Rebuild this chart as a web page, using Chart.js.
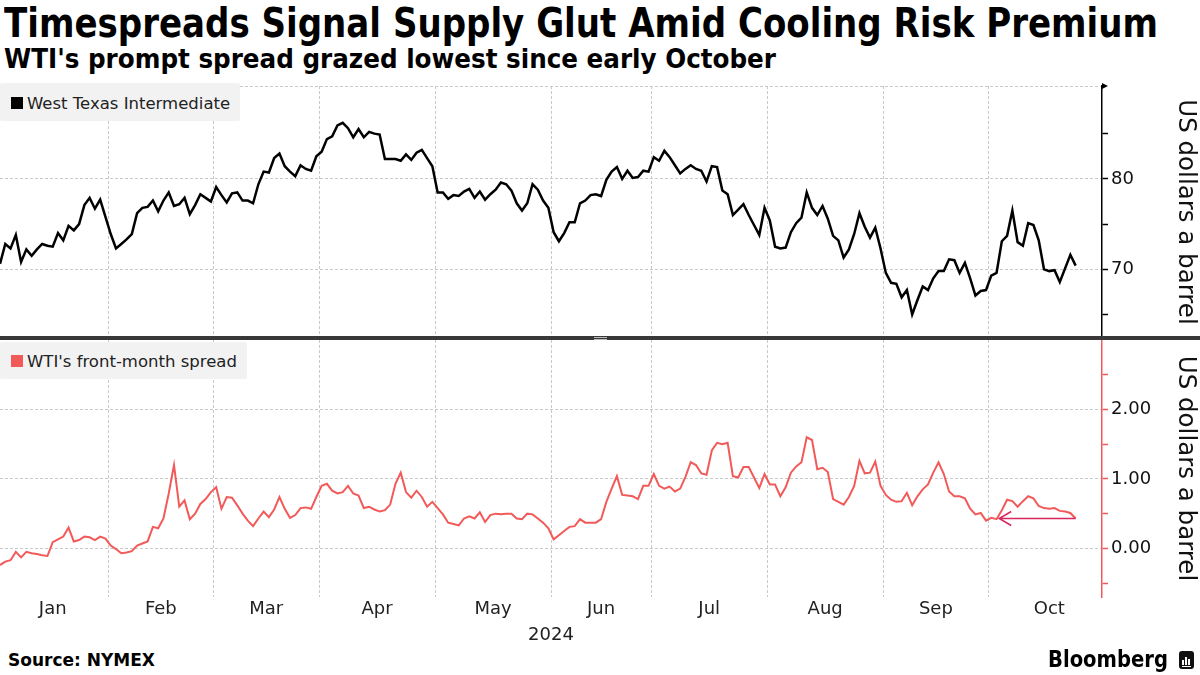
<!DOCTYPE html>
<html>
<head>
<meta charset="utf-8">
<script src="https://cdn.jsdelivr.net/npm/chart.js@4.4.1/dist/chart.umd.min.js"></script>
<style>
  body { margin: 0; width: 1200px; height: 675px; overflow: hidden; position: relative; background: #fff; font-family: "DejaVu Sans", sans-serif; color: #000; }
  .txt { position: absolute; white-space: nowrap; line-height: 1; transform-origin: 0 0; }
  #title { left: 4px; top: 3px; font-size: 40px; font-weight: bold; }
  #subtitle { left: 4px; top: 46px; font-size: 26px; font-weight: bold; }
  #source { left: 8px; top: 652px; font-size: 17px; font-weight: bold; }
  #brand { left: 1048px; top: 648px; font-size: 23px; font-weight: bold; }
  canvas { position: absolute; left: 0; }
  #topWrap { position: absolute; left: 0; top: 80px; width: 1200px; height: 258px; }
  #botWrap { position: absolute; left: 0; top: 338px; width: 1200px; height: 312px; }
  .legend { position: absolute; left: 0; background: #f2f2f2; border-radius: 2px; z-index: 5; }
  .legend .sq { position: absolute; left: 11px; width: 12px; height: 12px; }
  .legend .lbl { position: absolute; left: 27px; font-size: 16.5px; line-height: 1; white-space: nowrap; color: #222; }
  #sep { position: absolute; left: 0; top: 336px; width: 1200px; height: 4px; background: #383838; z-index: 6; }
  #grip1, #grip2 { position: absolute; left: 594px; width: 13px; height: 1px; background: #bbb; z-index: 7; }
  #logo { position: absolute; left: 1179px; top: 651px; width: 15px; height: 18px; background: #111; border-radius: 3px; }
  #logo i { position: absolute; bottom: 4px; width: 2px; background: #fff; }
</style>
</head>
<body>
<div id="title" class="txt">Timespreads Signal Supply Glut Amid Cooling Risk Premium</div>
<div id="subtitle" class="txt">WTI's prompt spread grazed lowest since early October</div>

<div id="topWrap"><canvas id="topChart" width="1200" height="258"></canvas></div>
<div id="botWrap"><canvas id="botChart" width="1200" height="312"></canvas></div>

<div class="legend" style="top:83px;width:240px;height:38px;">
  <div class="sq" style="top:14px;background:#000;"></div>
  <div class="lbl" style="top:13px;">West Texas Intermediate</div>
</div>
<div class="legend" style="top:342px;width:247px;height:37px;">
  <div class="sq" style="top:13px;background:#f25a5a;"></div>
  <div class="lbl" style="top:12px;">WTI's front-month spread</div>
</div>

<div id="sep"></div>
<div id="grip1" style="top:337px;"></div>
<div id="grip2" style="top:339px;"></div>

<div id="source" class="txt">Source: NYMEX</div>
<div id="brand" class="txt">Bloomberg</div>
<div id="logo"><i style="left:3px;height:5px"></i><i style="left:6px;height:8px"></i><i style="left:9px;height:6px"></i><i style="left:3px;bottom:2px;width:9px;height:1px"></i></div>

<script>
// trading days Jan 2 .. Oct 23 2024, one value per day
const wti = [
  70.6, 72.8, 72.3, 73.8, 70.8, 72.2, 71.5, 72.2, 72.8, 72.6,
  72.5, 74.0, 73.2, 74.8, 74.3, 75.0, 77.1, 77.9, 76.7, 77.7,
  75.8, 73.9, 72.3, 72.8, 73.3, 73.9, 76.2, 76.8, 76.9, 77.6,
  76.4, 77.6, 78.5, 77.0, 77.2, 77.9, 76.1, 77.1, 78.3, 77.9,
  77.5, 79.1, 78.2, 77.4, 78.4, 78.5, 77.6, 77.6, 77.3, 79.4,
  80.8, 80.7, 82.3, 82.8, 81.4, 80.8, 80.3, 81.5, 81.1, 80.9,
  82.5, 83.0, 84.4, 84.7, 85.9, 86.2, 85.6, 84.6, 85.5, 84.6,
  85.2, 85.0, 84.9, 82.2, 82.2, 82.2, 82.0, 82.7, 82.1, 82.9,
  83.2, 82.3, 81.4, 78.5, 78.5, 77.8, 78.2, 78.1, 78.6, 78.9,
  77.9, 78.6, 77.7, 78.3, 78.8, 79.6, 79.4, 78.7, 77.3, 76.5,
  77.3, 79.4, 78.8, 77.6, 76.8, 74.1, 73.1, 74.0, 75.2, 75.2,
  77.3, 77.6, 78.2, 78.3, 78.1, 79.9, 80.8, 81.3, 80.0, 80.9,
  80.1, 80.2, 80.9, 80.8, 82.4, 82.0, 83.1, 82.4, 81.5, 80.6,
  81.1, 81.5, 81.1, 80.9, 79.7, 81.4, 81.3, 78.7, 78.3, 76.0,
  76.6, 77.2, 76.0, 74.9, 73.8, 76.8, 75.4, 72.5, 72.3, 72.4,
  74.1, 75.1, 75.7, 78.5, 76.8, 76.0, 77.0, 75.6, 73.7, 73.2,
  71.3, 72.2, 73.9, 76.2, 74.7, 73.5, 74.6, 72.3, 69.6, 68.5,
  68.4, 66.9, 67.7, 65.0, 66.6, 68.1, 67.7, 69.0, 69.8, 69.8,
  71.1, 71.0, 69.6, 70.7, 69.0, 67.1, 67.6, 67.7, 69.3, 69.6,
  73.1, 73.7, 76.5, 73.0, 72.6, 75.1, 74.9, 73.2, 70.0, 69.8,
  69.9, 68.6, 70.1, 71.6, 70.4
];

const spread = [
  -0.24, -0.19, -0.17, -0.05, -0.13, -0.05, -0.07, -0.08, -0.10, -0.11,
  0.09, 0.13, 0.17, 0.30, 0.10, 0.12, 0.17, 0.16, 0.12, 0.17,
  0.14, 0.04, -0.01, -0.07, -0.06, -0.04, 0.04, 0.07, 0.10, 0.31,
  0.29, 0.43, 0.79, 1.20, 0.60, 0.69, 0.42, 0.50, 0.64, 0.71,
  0.81, 0.88, 0.57, 0.74, 0.73, 0.62, 0.50, 0.40, 0.32, 0.43,
  0.53, 0.45, 0.56, 0.74, 0.57, 0.44, 0.48, 0.58, 0.59, 0.57,
  0.74, 0.90, 0.93, 0.83, 0.79, 0.81, 0.90, 0.79, 0.76, 0.58,
  0.60, 0.56, 0.53, 0.55, 0.63, 0.93, 1.09, 0.81, 0.73, 0.83,
  0.74, 0.60, 0.67, 0.58, 0.49, 0.37, 0.35, 0.33, 0.43, 0.46,
  0.43, 0.52, 0.38, 0.48, 0.50, 0.49, 0.50, 0.50, 0.43, 0.42,
  0.50, 0.49, 0.43, 0.37, 0.29, 0.13, 0.19, 0.25, 0.31, 0.32,
  0.42, 0.37, 0.37, 0.37, 0.42, 0.67, 0.86, 1.04, 0.77, 0.76,
  0.75, 0.71, 0.90, 0.90, 1.07, 0.90, 0.86, 0.89, 0.82, 0.86,
  1.03, 1.24, 1.20, 1.08, 1.06, 1.41, 1.52, 1.50, 1.52, 1.04,
  1.02, 1.17, 1.17, 1.02, 0.87, 1.07, 0.92, 0.92, 0.75, 0.88,
  1.09, 1.18, 1.24, 1.60, 1.56, 1.14, 1.16, 1.10, 0.71, 0.67,
  0.63, 0.74, 0.90, 1.26, 1.08, 1.09, 1.25, 0.90, 0.77, 0.70,
  0.67, 0.68, 0.80, 0.62, 0.75, 0.85, 0.92, 1.09, 1.24, 1.07,
  0.82, 0.75, 0.75, 0.72, 0.57, 0.49, 0.51, 0.40, 0.44, 0.42,
  0.55, 0.70, 0.68, 0.60, 0.68, 0.75, 0.72, 0.61, 0.58, 0.57,
  0.58, 0.54, 0.53, 0.51, 0.43
];

const monthNames = ['Jan', 'Feb', 'Mar', 'Apr', 'May', 'Jun', 'Jul', 'Aug', 'Sep', 'Oct'];
// month boundaries and label centres, in trading-day index units
const monthStarts = [20.5, 40.5, 60.5, 82.5, 104.5, 123.5, 145.5, 167.5, 187.5];
const monthMids = [10, 30.5, 50.5, 71.5, 93.5, 114, 134.5, 156.5, 177.5, 199];
const yearLabel = '2024';

const wtiTicks = [65, 70, 75, 80, 85];
const spreadTicks = [-0.5, 0, 0.5, 1, 1.5, 2, 2.5];
const arrowTo = 189.5;

const FONT = '"DejaVu Sans", sans-serif';
const RED = '#f25a5a';
const GRID = '#c9c9c9';
const X_MAX = 209;
const TOP_MIN = 62.4, TOP_MAX = 90.27;
const BOT_MIN = -0.70, BOT_MAX = 3.0;

function fitText(id, target) {
  const el = document.getElementById(id);
  const w = el.getBoundingClientRect().width;
  el.style.transform = 'scaleX(' + (target / w) + ')';
}
fitText('title', 1154);
fitText('subtitle', 772);
fitText('source', 147);
fitText('brand', 120);

const pts = arr => arr.map((v, i) => ({x: i, y: v}));

// y axes: fixed width, and no extra room for half a tick label at the ends
function fixY(s) {
  s.width = 98;
  s.paddingTop = 0;
  s.paddingBottom = 0;
}

const monthGridAxis = {
  type: 'linear', position: 'bottom', min: 0, max: X_MAX,
  afterBuildTicks: s => { s.ticks = monthStarts.map(v => ({value: v})); },
  afterFit: s => { s.height = 0; s.paddingLeft = 0; s.paddingRight = 0; },
  ticks: {display: false},
  grid: {color: GRID, lineWidth: 1, drawTicks: false},
  border: {display: false, dash: [3, 2]}
};

const topAxisArrow = {
  id: 'topAxisArrow',
  afterDraw(chart) {
    const {ctx, chartArea} = chart;
    ctx.save();
    ctx.fillStyle = '#000';
    ctx.beginPath();
    ctx.moveTo(chartArea.right, chartArea.top - 3);
    ctx.lineTo(chartArea.right + 6, chartArea.top);
    ctx.lineTo(chartArea.right, chartArea.top + 3);
    ctx.closePath();
    ctx.fill();
    ctx.restore();
  }
};

new Chart(document.getElementById('topChart'), {
  type: 'line',
  data: {
    datasets: [{
      label: 'West Texas Intermediate',
      data: pts(wti),
      borderColor: '#000',
      borderWidth: 2.5,
      pointRadius: 0,
      tension: 0
    }]
  },
  options: {
    responsive: false,
    animation: false,
    layout: {padding: {top: 6, bottom: 0, left: 0, right: 0}},
    plugins: {legend: {display: false}, tooltip: {enabled: false}},
    scales: {
      x: monthGridAxis,
      y: {
        position: 'right', min: TOP_MIN, max: TOP_MAX,
        afterBuildTicks: s => { s.ticks = wtiTicks.concat([TOP_MAX]).map(v => ({value: v})); },
        afterFit: fixY,
        grid: {
          color: c => (c.tick && (c.tick.value % 10 === 0 || c.tick.value === TOP_MAX)) ? GRID : 'rgba(0,0,0,0)',
          tickColor: c => (c.tick && c.tick.value === TOP_MAX) ? 'rgba(0,0,0,0)' : '#000',
          tickLength: 6, tickWidth: 1.5, tickBorderDash: []
        },
        border: {display: true, color: '#000', width: 1.5, dash: [3, 2]},
        ticks: {
          callback: v => (v % 10 === 0 ? String(v) : ''),
          font: {family: FONT, size: 18}, color: '#111', padding: 3
        },
        title: {display: true, text: 'US dollars a barrel', font: {family: FONT, size: 24.5}, color: '#111', padding: {top: 0, bottom: 1}}
      }
    }
  },
  plugins: [topAxisArrow]
});

const lowArrow = {
  id: 'lowArrow',
  afterDatasetsDraw(chart) {
    const {ctx, scales} = chart;
    const last = spread.length - 1;
    const x1 = scales.x.getPixelForValue(last);
    const x0 = scales.x.getPixelForValue(arrowTo);
    const y = scales.y.getPixelForValue(spread[last]);
    ctx.save();
    ctx.strokeStyle = '#d8265e';
    ctx.lineWidth = 1.5;
    ctx.beginPath();
    ctx.moveTo(x1, y);
    ctx.lineTo(x0, y);
    ctx.moveTo(x0 + 12, y - 7);
    ctx.lineTo(x0, y);
    ctx.lineTo(x0 + 12, y + 7);
    ctx.stroke();
    ctx.restore();
  }
};

new Chart(document.getElementById('botChart'), {
  type: 'line',
  data: {
    datasets: [{
      label: "WTI's front-month spread",
      data: pts(spread),
      borderColor: RED,
      borderWidth: 2,
      pointRadius: 0,
      tension: 0
    }]
  },
  options: {
    responsive: false,
    animation: false,
    layout: {padding: {top: 2, bottom: 0, left: 0, right: 0}},
    plugins: {legend: {display: false}, tooltip: {enabled: false}},
    scales: {
      x: monthGridAxis,
      xl: {
        type: 'linear', position: 'bottom', min: 0, max: X_MAX,
        afterBuildTicks: s => { s.ticks = monthMids.map(v => ({value: v})); },
        afterFit: s => { s.height = 53; s.paddingLeft = 0; s.paddingRight = 0; },
        grid: {display: false, drawTicks: false},
        border: {display: false},
        ticks: {
          autoSkip: false, maxRotation: 0,
          callback: (v, i) => monthNames[i],
          font: {family: FONT, size: 18}, color: '#222', padding: 2
        },
        title: {display: true, text: yearLabel, font: {family: FONT, size: 18}, color: '#222', padding: {top: 0, bottom: 4}}
      },
      y: {
        position: 'right', min: BOT_MIN, max: BOT_MAX,
        afterBuildTicks: s => { s.ticks = spreadTicks.map(v => ({value: v})); },
        afterFit: fixY,
        grid: {
          color: c => (c.tick && Number.isInteger(c.tick.value)) ? GRID : 'rgba(0,0,0,0)',
          tickColor: RED, tickLength: 6, tickWidth: 1.5, tickBorderDash: []
        },
        border: {display: true, color: RED, width: 1.5, dash: [3, 2]},
        ticks: {
          callback: v => (Number.isInteger(v) ? v.toFixed(2) : ''),
          font: {family: FONT, size: 18}, color: '#111', padding: 3
        },
        title: {display: true, text: 'US dollars a barrel', font: {family: FONT, size: 24.5}, color: '#111', padding: {top: 0, bottom: 1}}
      }
    }
  },
  plugins: [lowArrow]
});
</script>
</body>
</html>
